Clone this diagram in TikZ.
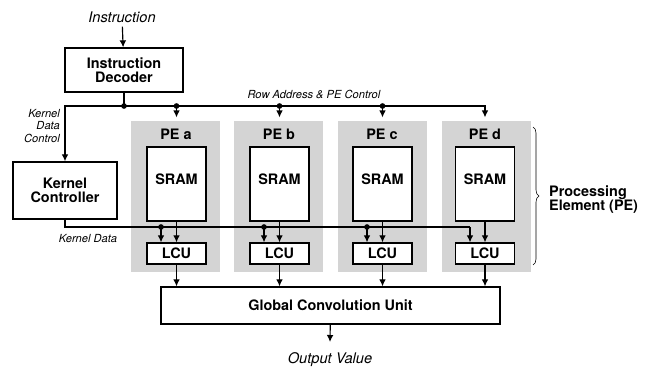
\documentclass[tikz,border=0pt]{standalone}
\usepackage{fontspec}
\setmainfont{TeX Gyre Heros}
\usetikzlibrary{arrows.meta,positioning,calc,decorations.pathreplacing}
\tikzset{
  blk/.style={draw, line width=1.1pt, fill=white, align=center, font=\bfseries\fontsize{12.3}{12}\selectfont},
  sram/.style={blk, minimum width=1.77cm, minimum height=2.22cm, text depth=0.3cm},
  lcu/.style={blk, minimum width=1.77cm, minimum height=0.63cm},
  pe/.style={fill=black!17, inner sep=0pt, minimum width=2.67cm, minimum height=4.53cm},
  petitle/.style={font=\bfseries\fontsize{12.3}{12}\selectfont},
  sig/.style={font=\itshape\fontsize{9.5}{11}\selectfont, align=right},
  io/.style={font=\itshape\fontsize{12.5}{14}\selectfont},
  wire/.style={line width=1pt},
  arrow/.style={-{Latex[length=2.1mm,width=2mm]}, line width=1pt},
  pein/.style={arrow, shorten >=0.1cm},
  tap/.style={circle, fill, inner sep=0pt, minimum size=1.7mm}
}
\begin{document}
\begin{tikzpicture}[x=0.03cm,y=-0.03cm]
  \useasboundingbox (0,0) rectangle (649,367);
  % control path
  \node[io] (instr) at (122,17) {Instruction};
  \node[blk, minimum width=3.54cm, minimum height=1.32cm] (dec) at (124,70) {Instruction\\Decoder};
  \node[blk, minimum width=3.12cm, minimum height=1.71cm] (kc) at (65,190.5) {Kernel\\Controller};
  \node[sig, anchor=east] (kdc) at (64,126) {Kernel\\Data\\Control};
  \node[sig] (rowlbl) at (314,94) {Row Address \& PE Control};
  \node[sig] (kdlbl) at (88,239) {Kernel Data};
  % processing elements
  \node[pe] (peA) at (175.5,196.5) {};
  \node[pe] (peB) at (278.5,196.5) {};
  \node[pe] (peC) at (382.5,196.5) {};
  \node[pe] (peD) at (486,196.5) {};
  \node[petitle] (tA) at (176,134) {PE a};
  \node[petitle] (tB) at (279,134) {PE b};
  \node[petitle] (tC) at (382,134) {PE c};
  \node[petitle] (tD) at (485,134) {PE d};
  \node[sram] (sramA) at (176.5,184) {SRAM};
  \node[sram] (sramB) at (279.5,184) {SRAM};
  \node[sram] (sramC) at (382.5,184) {SRAM};
  \node[sram] (sramD) at (485,184) {SRAM};
  \node[lcu] (lcuA) at (176.5,253.5) {LCU};
  \node[lcu] (lcuB) at (279.5,253.5) {LCU};
  \node[lcu] (lcuC) at (382.5,253.5) {LCU};
  \node[lcu] (lcuD) at (485,253.5) {LCU};
  \node[blk, minimum width=10.17cm, minimum height=1.11cm] (gcu) at (330.5,305.5) {Global Convolution Unit};
  \node[io] (out) at (330,360) {Output Value};
  \node[petitle, align=left, anchor=west] (pelbl) at (545,200) {Processing\\Element (PE)};
  \coordinate (bus) at (124,106);
  \coordinate (kA) at (161,227);
  \coordinate (kB) at (264,227);
  \coordinate (kC) at (367,227);
  \coordinate (kD) at (470,227);
  \coordinate (outtip) at (330,342);
  \coordinate (brT) at (533,127);
  \coordinate (brB) at (533,265);
  % row address & PE control
  \draw[arrow] (instr) -- (dec);
  \draw[wire] (dec.south) -- (bus);
  \draw[arrow] (bus) -| (kc.north);
  \draw[pein] (bus) -| (sramD.center |- peD.north);
  \draw[pein] (bus -| sramA) -- (sramA |- peA.north);
  \draw[pein] (bus -| sramB) -- (sramB |- peB.north);
  \draw[pein] (bus -| sramC) -- (sramC |- peC.north);
  \node[tap] (dot0) at (bus) {};
  \node[tap] (dot1) at (bus -| sramA) {};
  \node[tap] (dot2) at (bus -| sramB) {};
  \node[tap] (dot3) at (bus -| sramC) {};
  % kernel data
  \draw[wire] (kc.south) |- (kD);
  \draw[arrow] (kD) -- (kD |- lcuD.north);
  \draw[arrow] (kA) -- (kA |- lcuA.north);
  \draw[arrow] (kB) -- (kB |- lcuB.north);
  \draw[arrow] (kC) -- (kC |- lcuC.north);
  \node[tap] (dot4) at (kA) {};
  \node[tap] (dot5) at (kB) {};
  \node[tap] (dot6) at (kC) {};
  % datapath
  \draw[arrow] (sramA) -- (lcuA);
  \draw[arrow] (sramB) -- (lcuB);
  \draw[arrow] (sramC) -- (lcuC);
  \draw[arrow] (sramD) -- (lcuD);
  \draw[arrow] (lcuA) -- (lcuA |- gcu.north);
  \draw[arrow] (lcuB) -- (lcuB |- gcu.north);
  \draw[arrow] (lcuC) -- (lcuC |- gcu.north);
  \draw[arrow] (lcuD) -- (lcuD |- gcu.north);
  \draw[arrow] (gcu) -- (outtip);
  \draw[decorate, decoration={brace, amplitude=0.18cm}, line width=0.5pt] (brT) -- (brB);
\end{tikzpicture}
\end{document}
